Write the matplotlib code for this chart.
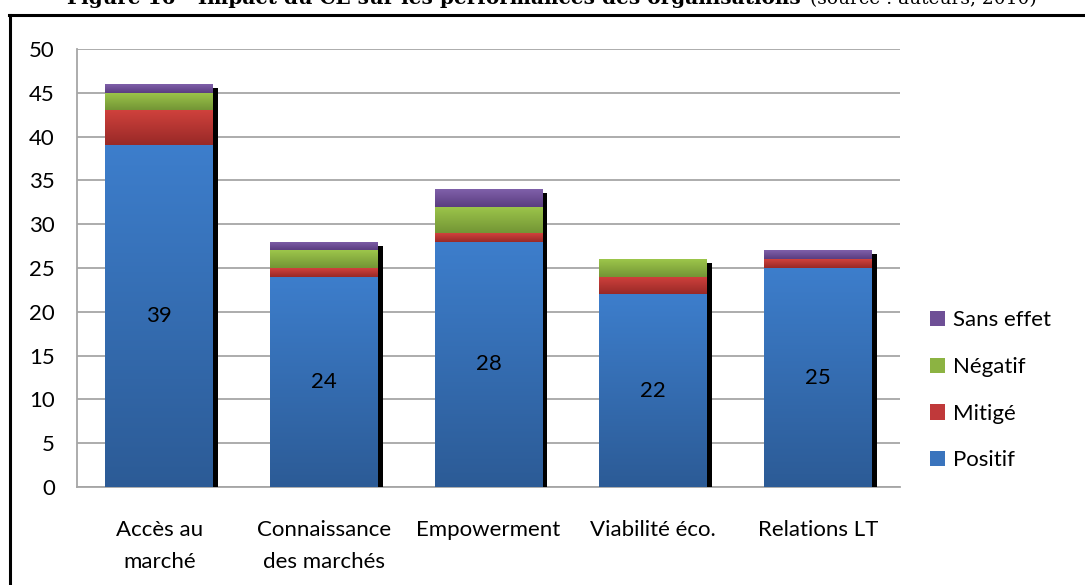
import numpy as np
import matplotlib
matplotlib.use("Agg")
import matplotlib.pyplot as plt
from matplotlib.colors import LinearSegmentedColormap
from matplotlib.patches import Patch
from matplotlib.lines import Line2D
from matplotlib.transforms import offset_copy

# ---------------- data ----------------
categories = ["Accès au\nmarché", "Connaissance\ndes marchés", "Empowerment",
              "Viabilité éco.", "Relations LT"]
positif    = [39, 24, 28, 22, 25]
mitige     = [4, 1, 1, 2, 1]
negatif    = [2, 2, 3, 2, 0]
sans_effet = [1, 1, 2, 0, 1]
series_names = ["Positif", "Mitigé", "Négatif", "Sans effet"]
y_ticks = list(range(0, 51, 5))
title_main = "Figure 16 - Impact du CE sur les performances des organisations"
title_src = "(source : auteurs, 2010)"

# ---------------- style ----------------
W, H = 1085, 585
FONT = "Lato"
FS = 16
grad_colors = {
    "Positif":    ("#3d7ecc", "#2c5b96"),
    "Mitigé":     ("#d1423d", "#982927"),
    "Négatif":    ("#9dc64b", "#739535"),
    "Sans effet": ("#8060aa", "#5a3d80"),
}
solid = {"Positif": "#3a74bd", "Mitigé": "#c0393a", "Négatif": "#8cb342",
         "Sans effet": "#6e4f96"}

fig = plt.figure(figsize=(W / 100, H / 100), dpi=100)
fig.patch.set_facecolor("white")
ax = fig.add_axes([77 / W, 1 - 487 / H, (900 - 77) / W, (487 - 49) / H])

x = np.arange(len(categories))
bw = 0.656
totals = np.array(positif) + np.array(mitige) + np.array(negatif) + np.array(sans_effet)

# shadow
shadow_tr = offset_copy(ax.transData, fig=fig, x=5, y=-4, units="dots")
ax.bar(x, totals, bw, color="black", transform=shadow_tr, zorder=2, linewidth=0)

bottom = np.zeros(len(categories))
containers = []
for name, vals in zip(series_names, [positif, mitige, negatif, sans_effet]):
    c = ax.bar(x, vals, bw, bottom=bottom, color=solid[name], zorder=3,
               linewidth=0, label=name)
    containers.append((name, c))
    bottom = bottom + np.array(vals)

# gradients
for name, c in containers:
    top_c, bot_c = grad_colors[name]
    cmap = LinearSegmentedColormap.from_list(name, [bot_c, top_c])
    for bar in c:
        h = bar.get_height()
        if h <= 0:
            continue
        bx, by, w = bar.get_x(), bar.get_y(), bar.get_width()
        im = ax.imshow(np.linspace(0, 1, 256).reshape(-1, 1), cmap=cmap,
                       extent=[bx, bx + w, by, by + h], origin="lower",
                       aspect="auto", zorder=3.5, interpolation="bilinear")
        im.set_clip_path(bar)

# data labels for Positif
for xi, v in zip(x, positif):
    ax.text(xi, v / 2, str(v), ha="center", va="center", fontsize=FS,
            family=FONT, color="black", zorder=5)

ax.set_xlim(-0.5, len(categories) - 0.5)
ax.set_ylim(0, 50)
ax.set_yticks(y_ticks)
ax.set_xticks(x)
ax.set_xticklabels(categories, fontsize=FS, family=FONT, linespacing=1.76)
for lab in ax.get_yticklabels():
    lab.set_fontsize(FS)
    lab.set_family(FONT)
ax.tick_params(axis="y", length=0, pad=16)
ax.tick_params(axis="x", length=0, pad=24)
ax.yaxis.grid(True, color="#a6a6a6", linewidth=1.3, zorder=0)
ax.set_axisbelow(True)
for s in ["top", "right"]:
    ax.spines[s].set_visible(False)
for s in ["left", "bottom"]:
    ax.spines[s].set_color("#a6a6a6")
    ax.spines[s].set_linewidth(1.3)
    ax.spines[s].set_zorder(1)

# legend
handles = [Patch(facecolor=solid[n], edgecolor="none", label=n)
           for n in reversed(series_names)]
leg = fig.legend(handles=handles, loc="center left",
                 bbox_to_anchor=(930 / W, 1 - 390.5 / H),
                 frameon=False, borderpad=0, borderaxespad=0,
                 handlelength=0.68, handleheight=0.68, handletextpad=0.36,
                 labelspacing=1.2, prop={"family": FONT, "size": FS})

# frame
fig.add_artist(Line2D([9.5 / W, 9.5 / W], [0, 1 - 15 / H], color="black",
                      linewidth=2.2, transform=fig.transFigure))
fig.add_artist(Line2D([8.5 / W, 1.0], [1 - 15 / H, 1 - 15 / H], color="black",
                      linewidth=2.2, transform=fig.transFigure))

# title (partially clipped at the top, as in the reference)
renderer = fig.canvas.get_renderer()
base_y = 1 - 4.5 / H
t1 = fig.text(67 / W, base_y, title_main, family="DejaVu Serif",
              weight="bold", fontsize=12, va="baseline", ha="left")
w1 = t1.get_window_extent(renderer).width
t1.set_fontsize(12 * (728 / w1))
t2 = fig.text(810 / W, base_y, title_src, family="DejaVu Serif",
              fontsize=10, va="baseline", ha="left")
w2 = t2.get_window_extent(renderer).width
t2.set_fontsize(10 * (228 / w2))

fig.savefig("out.png", dpi=100)
